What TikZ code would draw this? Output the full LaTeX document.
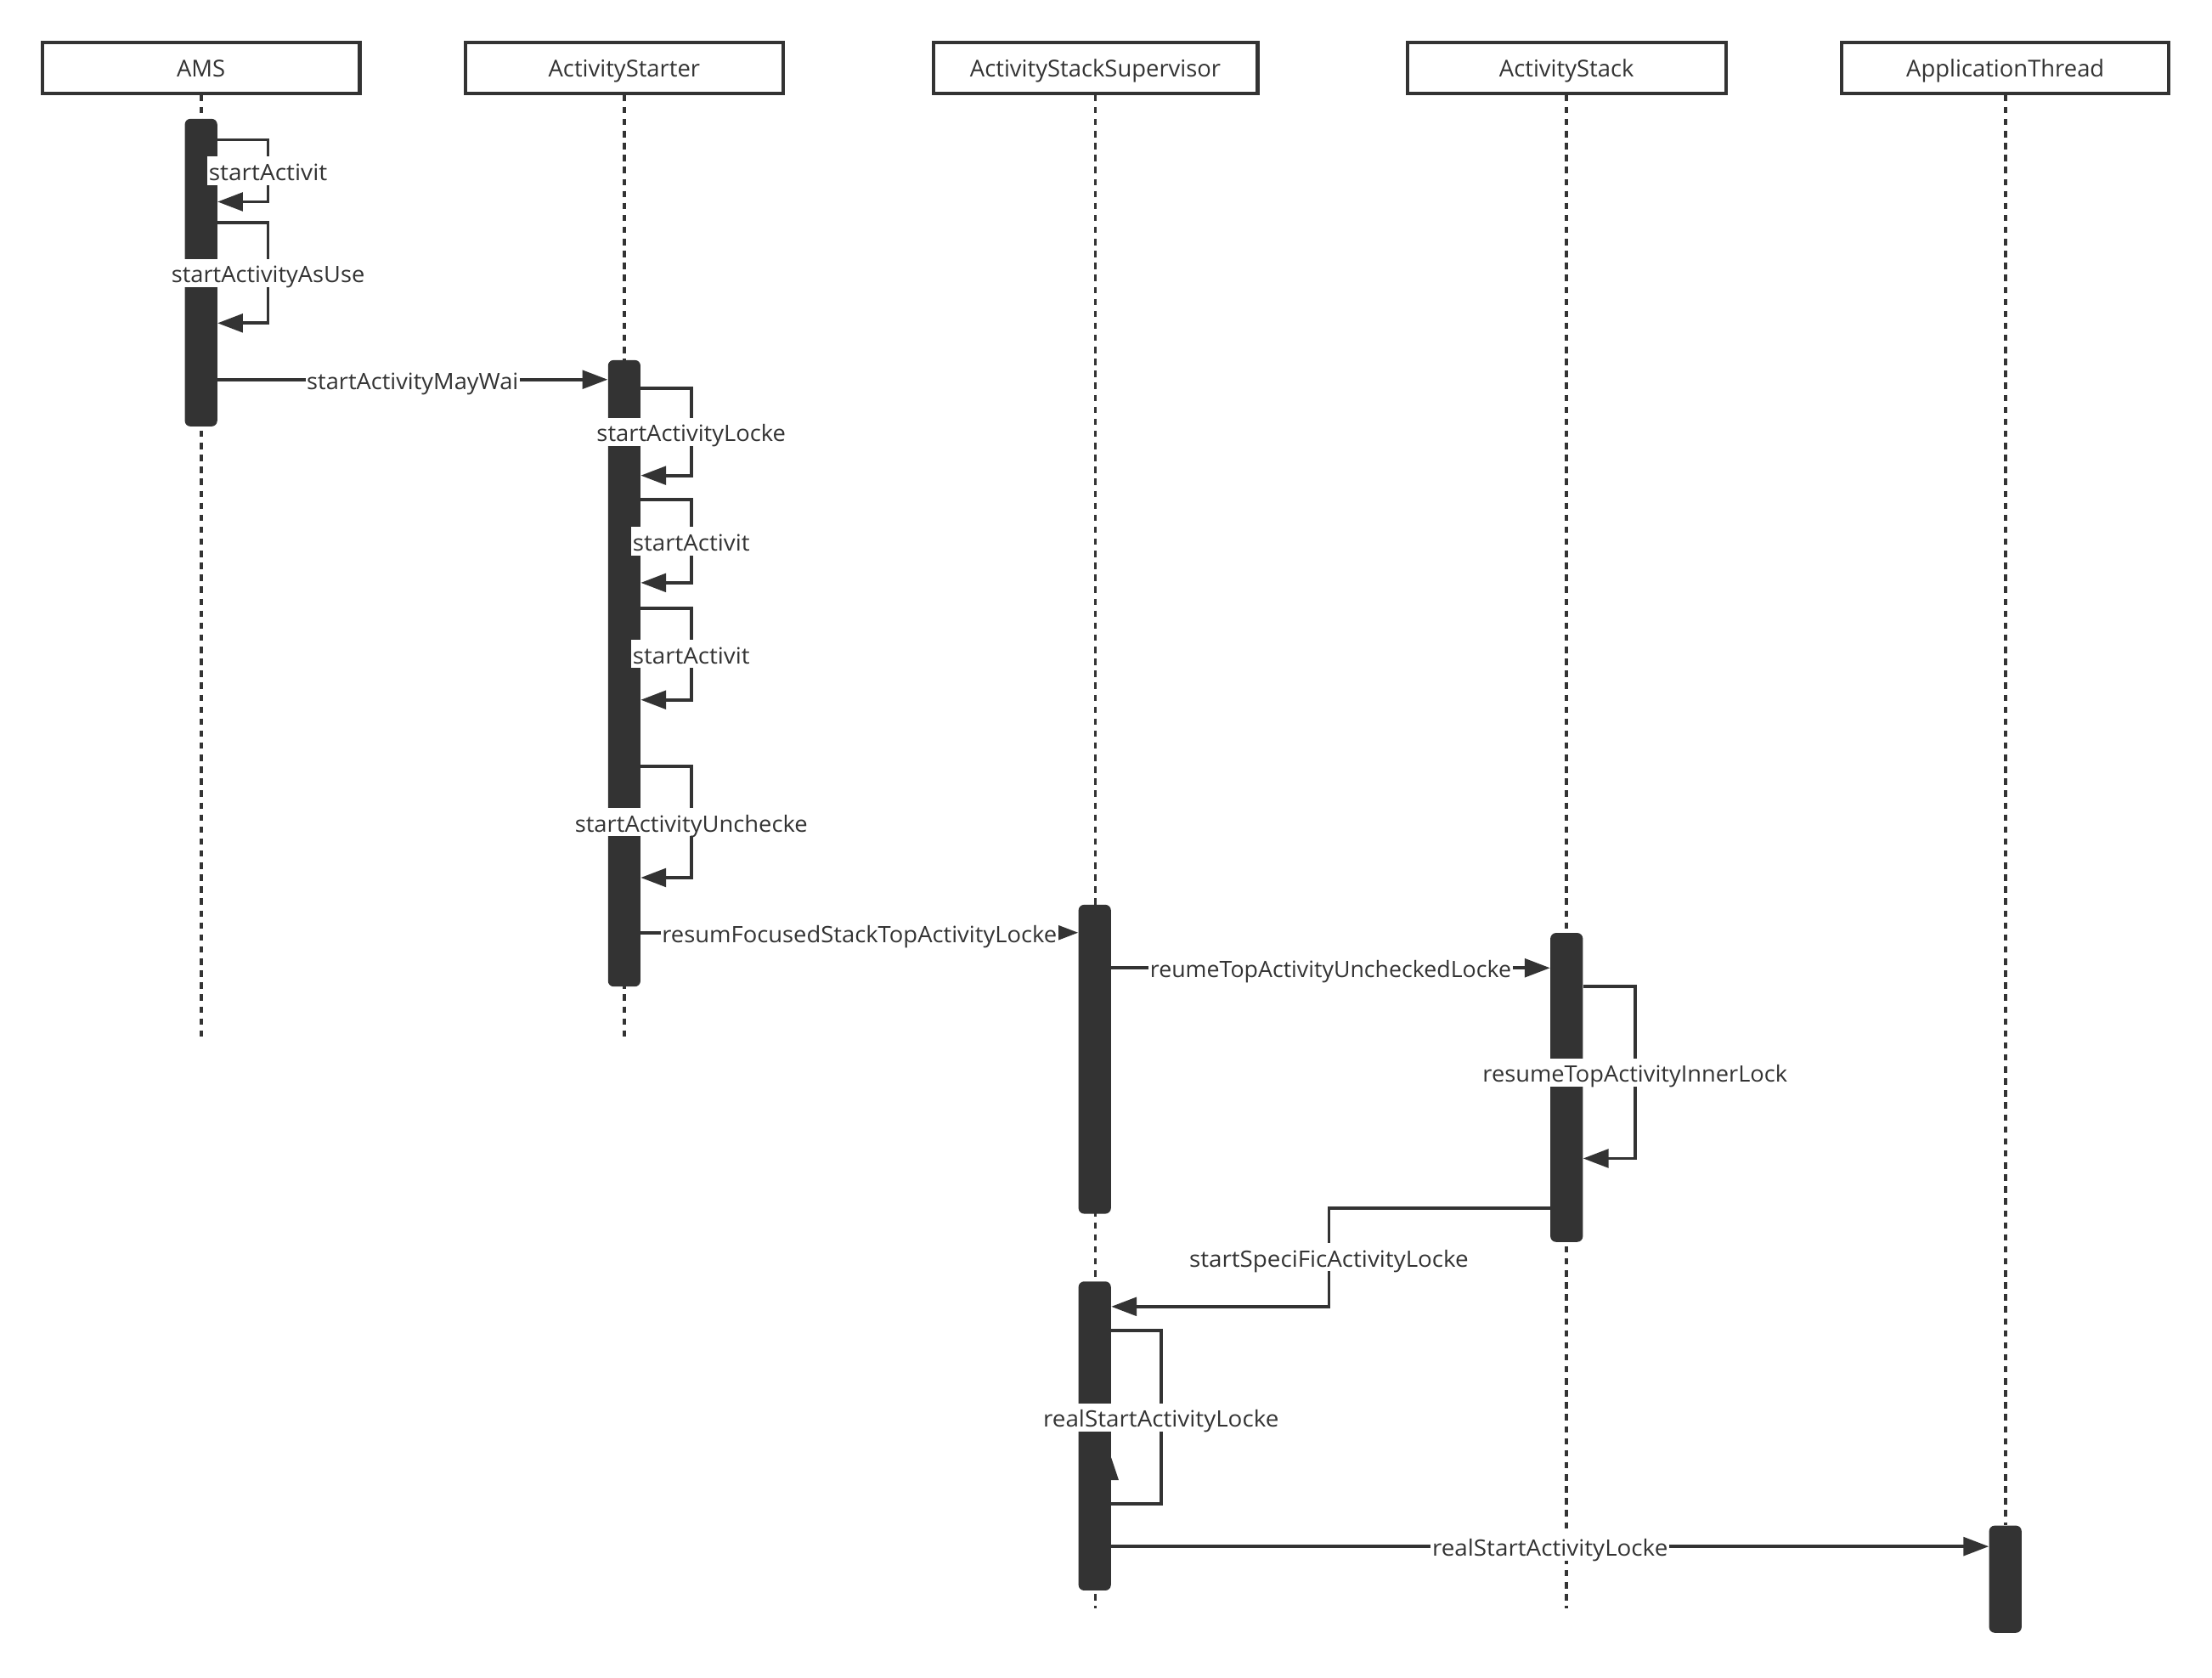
\documentclass[tikz,border=0pt]{standalone}
\usepackage{fontspec}
\setmainfont{Open Sans}
\usetikzlibrary{arrows.meta}
\definecolor{ink}{HTML}{333333}
\newcommand\fitw[2]{\resizebox{#1}{\height}{#2}}
\begin{document}
\begin{tikzpicture}[x=1pt,y=-1pt,
  part/.style={draw=ink, line width=2.5pt, minimum width=#1, minimum height=36pt, inner sep=0pt,
    text height=14pt, text depth=1pt, font=\fontsize{16.5}{20}\selectfont, text=ink},
  act/.style={fill=ink, rounded corners=4pt, minimum width=23pt, minimum height=#1, inner sep=0pt, anchor=north},
  life/.style={draw=ink, line width=2.3pt, dash pattern=on 4.5pt off 4pt},
  msg/.style={draw=ink, line width=2.3pt, -{Triangle[length=18pt,width=13pt]}},
  loopline/.style={draw=ink, line width=2.3pt},
  lbl/.style={fill=white, text=ink, inner xsep=1pt, inner ysep=2pt, text height=15pt, text depth=1pt,
    font=\fontsize{16}{20}\selectfont}]
\path[use as bounding box, fill=white] (0,0) rectangle (1568,1189);

% participants
\node[part=225pt] (ams) at (142.5,48) {AMS};
\node[part=225pt] (ast) at (442.5,48) {ActivityStarter};
\node[part=230pt] (sup) at (776.5,48) {ActivityStackSupervisor};
\node[part=226pt] (stk) at (1110.5,48) {ActivityStack};
\node[part=232pt] (apt) at (1421.5,48) {ApplicationThread};

% lifelines
\draw[life] (ams.south) -- (ams.south |- 0,735);
\draw[life] (ast.south) -- (ast.south |- 0,735);
\draw[life] (sup.south) -- (sup.south |- 0,1140);
\draw[life] (stk.south) -- (stk.south |- 0,1140);
\draw[life] (apt.south) -- (apt.south |- 0,1081);

% activations
\node[act=218pt] (a1) at (142.5,84) {};
\node[act=444pt] (a2) at (442.5,255) {};
\node[act=219pt] (a3) at (776,641) {};
\node[act=219pt] (a4) at (1110.5,661) {};
\node[act=219pt] (a5) at (776,908) {};
\node[act=76pt]  (a6) at (1421.5,1081) {};

% messages
\draw[msg] (a1.east |- 0,99) -- (190,99) -- node[lbl] (l1) {\fitw{84pt}{startActivit}} (190,143) -- (a1.east |- 0,143);
\draw[msg] (a1.east |- 0,158) -- (190,158) -- node[lbl] (l2) {\fitw{137pt}{startActivityAsUse}} (190,229) -- (a1.east |- 0,229);
\draw[msg] (a1.east |- 0,269) -- node[lbl] (l3) {\fitw{150pt}{startActivityMayWai}} (a2.west |- 0,269);

\draw[msg] (a2.east |- 0,275) -- (490,275) -- node[lbl] (l4) {\fitw{134pt}{startActivityLocke}} (490,337) -- (a2.east |- 0,337);
\draw[msg] (a2.east |- 0,354) -- (490,354) -- node[lbl] (l5) {\fitw{83pt}{startActivit}} (490,413) -- (a2.east |- 0,413);
\draw[msg] (a2.east |- 0,431) -- (490,431) -- node[lbl] (l6) {\fitw{83pt}{startActivit}} (490,496) -- (a2.east |- 0,496);
\draw[msg] (a2.east |- 0,543) -- (490,543) -- node[lbl] (l7) {\fitw{165pt}{startActivityUnchecke}} (490,622) -- (a2.east |- 0,622);
\draw[msg] (a2.east |- 0,661) -- node[lbl] (l8) {\fitw{280pt}{resumFocusedStackTopActivityLocke}} (a3.west |- 0,661);

\draw[msg] (a3.east |- 0,686) -- node[lbl] (l9) {\fitw{256pt}{reumeTopActivityUncheckedLocke}} (a4.west |- 0,686);
\draw[msg] (a4.east |- 0,699) -- (1159,699) -- node[lbl] (l10) {\fitw{216pt}{resumeTopActivityInnerLock}} (1159,821) -- (a4.east |- 0,821);
\draw[msg] (a4.west |- 0,856) -- (942,856) -- node[lbl] (l11) {\fitw{198pt}{startSpeciFicActivityLocke}} (942,926) -- (a5.east |- 0,926);

\draw[loopline] (a5.east |- 0,943) -- (823,943) -- node[lbl] (l12) {\fitw{167pt}{realStartActivityLocke}} (823,1066) -- (a5.east |- 0,1066);
\fill[ink] (a5.east |- 0,1033) -- (793,1049) -- (a5.east |- 0,1049) -- cycle;
\draw[msg] (a5.east |- 0,1096) -- node[lbl] (l13) {\fitw{167pt}{realStartActivityLocke}} (a6.west |- 0,1096);
\end{tikzpicture}
\end{document}
